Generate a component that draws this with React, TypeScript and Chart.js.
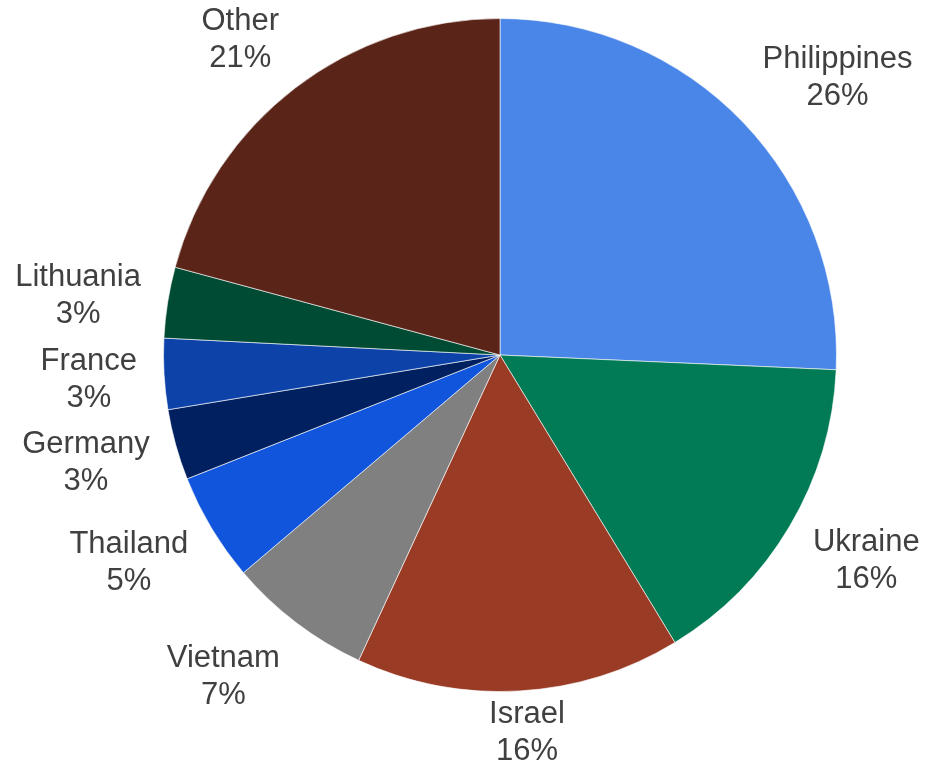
import React, { useEffect, useRef } from "react";
import { Chart, registerables } from "chart.js";

Chart.register(...registerables);

const categories = ["Philippines", "Ukraine", "Israel", "Vietnam", "Thailand", "Germany", "France", "Lithuania", "Other"];
const shares = [25.7, 15.6, 15.6, 6.9, 5.2, 3.4, 3.4, 3.4, 20.8];
const sliceColors = ["#4a86e8", "#007b55", "#9a3b26", "#808080", "#1155dc", "#00205f", "#0d43a9", "#004b33", "#5b2418"];

const W = 926;
const H = 763;
const FONT_SIZE = 31;
const LINE_H = 37;

const labelPlugin = {
  id: "outsideLabels",
  afterDatasetsDraw(chart: any) {
    const ctx = chart.ctx as CanvasRenderingContext2D;
    const meta = chart.getDatasetMeta(0);
    const data = chart.data.datasets[0].data as number[];
    const total = data.reduce((a, b) => a + b, 0);
    ctx.save();
    ctx.font = `${FONT_SIZE}px "Liberation Sans", Arial, sans-serif`;
    ctx.fillStyle = "#404040";
    ctx.textAlign = "center";
    ctx.textBaseline = "middle";
    meta.data.forEach((arc: any, i: number) => {
      const { x, y, startAngle, endAngle, outerRadius } = arc.getProps(["x", "y", "startAngle", "endAngle", "outerRadius"], true);
      const mid = (startAngle + endAngle) / 2;
      const ux = Math.cos(mid);
      const uy = Math.sin(mid);
      const m = Math.max(Math.abs(ux), Math.abs(uy));
      const ex = Math.max(-1, Math.min(1, ux * 3));
      const ey = (uy / m) * 0.8;
      const lines = [String(chart.data.labels[i]), `${Math.round((data[i] / total) * 100)}%`];
      const w = Math.max(...lines.map((l) => ctx.measureText(l).width));
      const h = LINE_H * 2;
      const R = outerRadius + 27;
      let cx = x + R * ux + (ex * w) / 2;
      let cy = y + R * uy + (ey * h) / 2 + 3;
      cx = Math.min(Math.max(cx, w / 2 + 2), W - w / 2 - 2);
      cy = Math.min(Math.max(cy, 40), H - 30);
      ctx.fillText(lines[0], cx, cy - LINE_H / 2);
      ctx.fillText(lines[1], cx, cy + LINE_H / 2);
    });
    ctx.restore();
  },
};

export default function App() {
  const ref = useRef<HTMLCanvasElement | null>(null);
  useEffect(() => {
    if (!ref.current) return;
    const chart = new Chart(ref.current, {
      type: "pie",
      data: {
        labels: categories,
        datasets: [
          {
            data: shares,
            backgroundColor: sliceColors,
            borderColor: "rgba(255,255,255,0.6)",
            borderWidth: 1,
          },
        ],
      },
      options: {
        responsive: false,
        animation: false,
        layout: { padding: { left: 163, right: 89, top: 18, bottom: 71 } },
        plugins: {
          legend: { display: false },
          tooltip: { enabled: false },
        },
      },
      plugins: [labelPlugin],
    });
    return () => chart.destroy();
  }, []);
  return (
    <div style={{ position: "absolute", left: 0, top: 0, width: W, height: H, background: "#ffffff" }}>
      <canvas ref={ref} width={W} height={H} style={{ width: W, height: H }} />
    </div>
  );
}
